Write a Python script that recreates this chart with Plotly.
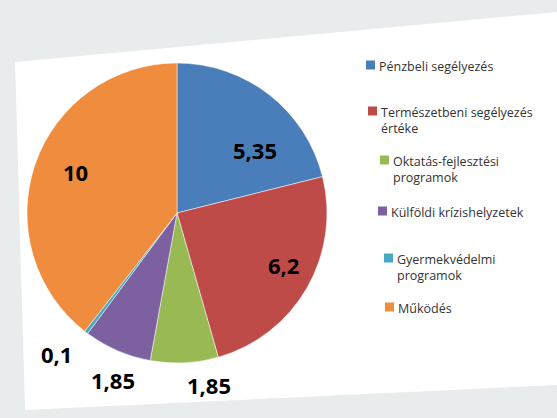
import math
import plotly.graph_objects as go

labels = ["Pénzbeli segélyezés", "Természetbeni segélyezés<br>értéke",
          "Oktatás-fejlesztési<br>programok", "Külföldi krízishelyzetek",
          "Gyermekvédelmi<br>programok", "Működés"]
values = [5.35, 6.2, 1.85, 1.85, 0.1, 10]
colors = ["#4A7EBB", "#BE4B48", "#98B954", "#7D60A0", "#46AAC5", "#F08C3E"]
texts = [f"{v:g}".replace(".", ",") for v in values]

W, H = 557, 418
CX, CY, R = 177, 213, 148          # pie centre / radius in pixels (style)
half = 150
dom_x = [(CX - 165) / W, (CX + 165) / W]
dom_y = [(H - CY - half) / H, (H - CY + half) / H]

fig = go.Figure()
fig.add_trace(go.Pie(
    labels=labels, values=values, textinfo="none",
    sort=False, direction="clockwise", rotation=0,
    marker=dict(colors=colors, line=dict(color="white", width=0.5)),
    domain=dict(x=dom_x, y=dom_y),
    showlegend=False, hoverinfo="label+value",
))

annotations = []
# data labels placed around each slice's mid-angle (angle nudge in deg, radial factor)
label_place = [(13, 0.68), (-4, 0.80), (-7.6, 1.18), (-2.4, 1.21), (3.3, 1.25), (3, 0.74)]
total = sum(values)
cum = 0
for i, v in enumerate(values):
    mid = (cum + v / 2) / total * 360
    cum += v
    da, f = label_place[i]
    a = math.radians(mid + da)
    px = CX + math.sin(a) * R * f
    py = CY - math.cos(a) * R * f
    annotations.append(dict(xref="paper", yref="paper", x=px / W, y=1 - py / H,
                            xanchor="center", yanchor="middle",
                            showarrow=False, text=texts[i],
                            font=dict(family="Open Sans", size=22, color="black", weight="bold")))

# legend drawn manually
leg_x = [366, 368, 380, 378, 384, 385]
leg_y = [65, 111, 160, 211, 258, 307]
shapes = [dict(type="path", xref="paper", yref="paper",
               path=f"M 0.027 {1-62/H} L 1 {1-12/H} L 1 {1-385/H} L 0.045 {1-410/H} Z",
               fillcolor="white", line=dict(width=0), layer="below")]
for lab, c, x, y in zip(labels, colors, leg_x, leg_y):
    shapes.append(dict(type="rect", xref="paper", yref="paper",
                       x0=x / W, x1=(x + 9) / W, y0=1 - (y + 4.5) / H, y1=1 - (y - 4.5) / H,
                       fillcolor=c, line=dict(width=0)))
    annotations.append(dict(xref="paper", yref="paper", x=(x + 11) / W, y=1 - (y - 9) / H,
                            xanchor="left", yanchor="top", align="left", showarrow=False,
                            text=lab, font=dict(family="Open Sans", size=12.5, color="#333333")))

fig.update_layout(
    width=W, height=H, margin=dict(l=0, r=0, t=0, b=0),
    paper_bgcolor="#e9ecec", plot_bgcolor="white",
    shapes=shapes, annotations=annotations,
)
fig.write_html("out.html")
